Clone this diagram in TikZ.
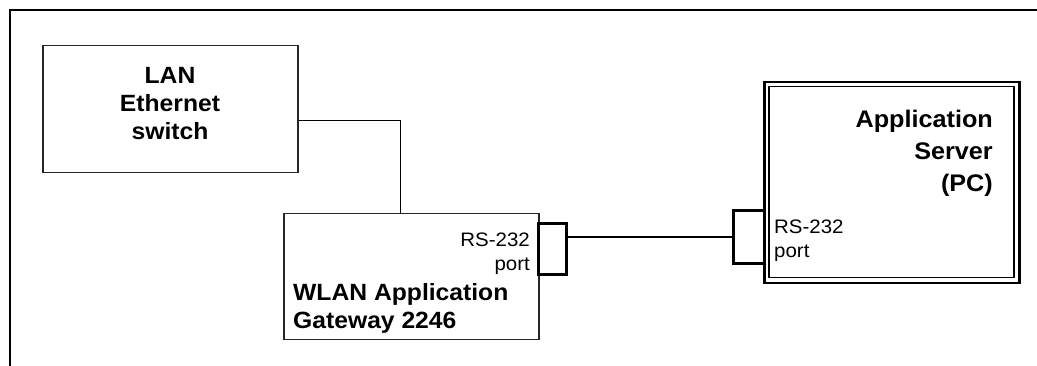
\documentclass[tikz,border=0pt]{standalone}
\usepackage{fontspec}
\setmainfont{Liberation Sans}[FakeStretch=1.05]
\begin{document}
\begin{tikzpicture}[x=1pt,y=-1pt,
  box/.style={draw=black!85,line width=1.5pt,inner sep=0pt,anchor=north west},
  portbox/.style={draw=black,line width=3pt,inner sep=0pt,anchor=north west},
  bigtxt/.style={inner sep=0pt,font=\fontsize{23.5}{28}\selectfont\bfseries},
  smalltxt/.style={inner sep=0pt,font=\fontsize{19.5}{24}\selectfont},
  wire/.style={draw=black,line width=1.3pt}]
\useasboundingbox (0,0) rectangle (1037,366);
% outer frame (top and left only)
\draw[line width=2pt] (1037,10) -- (10,10) -- (10,366);
% LAN switch
\node[box,minimum width=255pt,minimum height=127pt] (lan) at (42,45) {};
\node[bigtxt,align=center,anchor=north] (lantxt) at (170,67) {LAN\\Ethernet\\switch};
% Gateway
\node[box,minimum width=255pt,minimum height=126pt] (gw) at (283,213) {};
\node[portbox,minimum width=28pt,minimum height=51pt] (gwport) at (537,222) {};
\node[smalltxt,align=right,anchor=north east] (gwrs) at (530,233) {RS-232\\port};
\node[bigtxt,align=left,anchor=north west] (gwtxt) at (293,283) {WLAN Application\\Gateway 2246};
% Server
\node[draw=black,line width=2.5pt,inner sep=0pt,anchor=north west,minimum width=255pt,minimum height=201pt] (srv) at (763,81) {};
\node[draw=black,line width=1.5pt,inner sep=0pt,anchor=north west,minimum width=245pt,minimum height=191pt] (srvin) at (768,86) {};
\node[portbox,minimum width=31pt,minimum height=53pt] (srvport) at (732,209) {};
\node[bigtxt,align=right,anchor=north east,font=\fontsize{24}{32}\selectfont\bfseries] (srvtxt) at (993,110) {Application\\Server\\(PC)};
\node[smalltxt,align=left,anchor=north west] (srvrs) at (774,220) {RS-232\\port};
% connectors
\draw[wire] ([yshift=-11.5pt]lan.east) -| ([xshift=-10.5pt]gw.north);
\draw[wire] (gwport.east |- srvport.west) -- (srvport.west);
\end{tikzpicture}
\end{document}
